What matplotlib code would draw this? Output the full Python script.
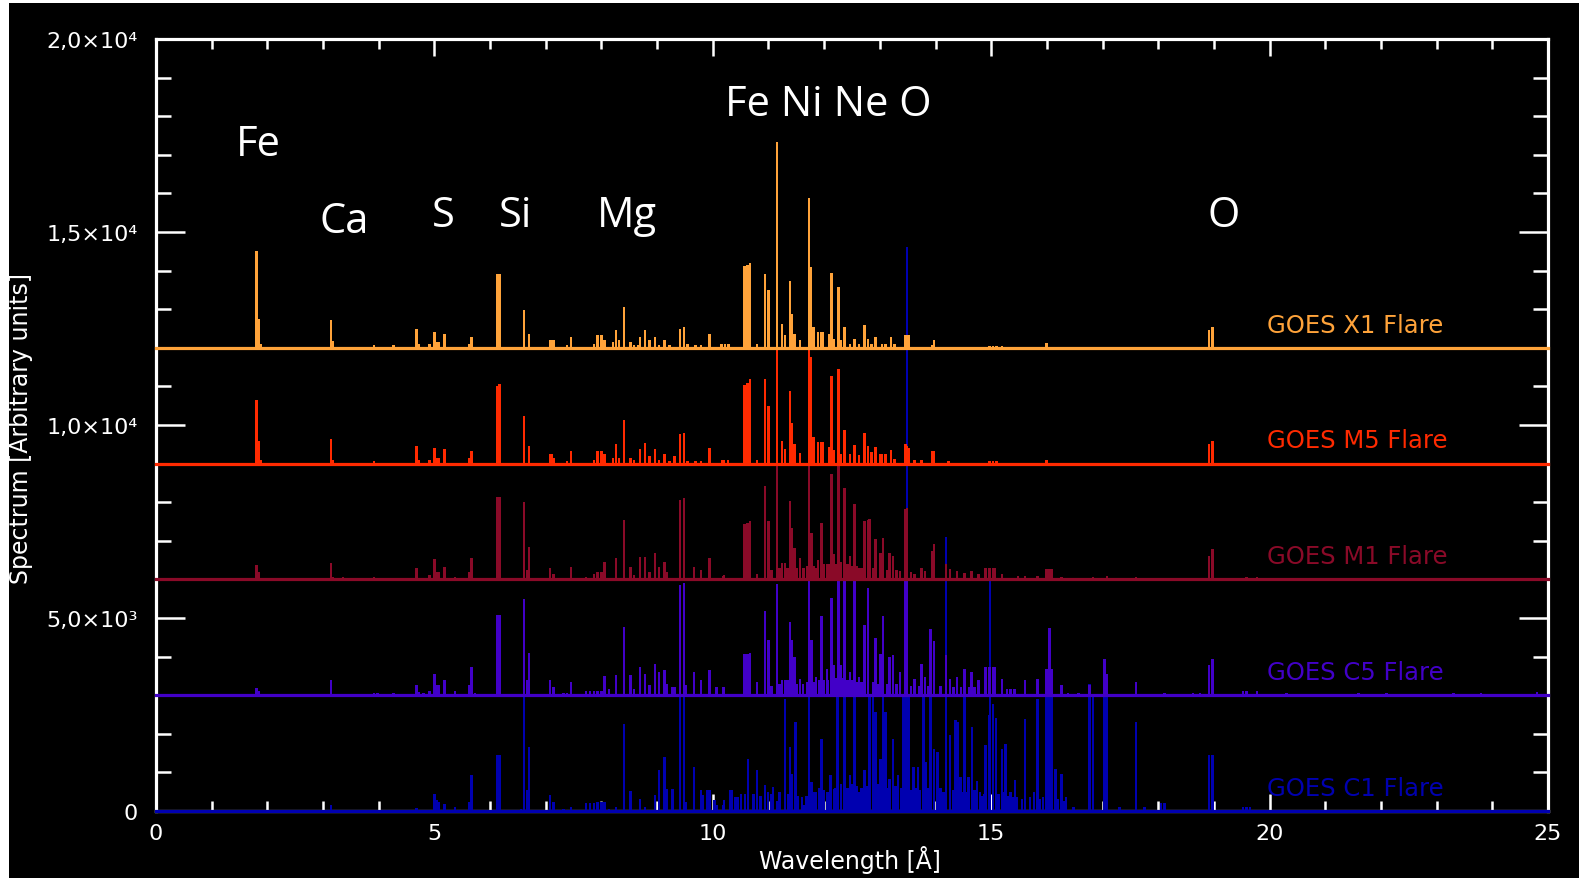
import matplotlib
matplotlib.use("Agg")
import matplotlib.pyplot as plt
from matplotlib.patches import Rectangle

# ---------------- data (wavelength [A], line height above series baseline) ----------------
x1_lines = [
    (1.801, 2510), (1.850, 750), (1.884, 100),
    (3.142, 710), (3.176, 165), (3.912, 60), (4.269, 60),
    (4.682, 490), (4.723, 100), (4.915, 105), (4.998, 405), (5.039, 150), (5.080, 150),
    (5.183, 365), (5.630, 105), (5.665, 275),
    (6.132, 1920), (6.173, 1920), (6.606, 970), (6.696, 365),
    (7.074, 205), (7.108, 205), (7.143, 205), (7.383, 60), (7.452, 275),
    (7.864, 105), (7.933, 320), (8.002, 320), (8.057, 190),
    (8.208, 150), (8.263, 450), (8.311, 190), (8.401, 1055),
    (8.518, 150), (8.586, 60), (8.655, 60), (8.689, 275), (8.779, 450), (8.861, 190),
    (8.964, 275), (9.033, 60), (9.136, 190), (9.226, 60),
    (9.411, 490), (9.480, 535), (9.549, 100), (9.686, 60), (9.789, 60), (9.941, 365),
    (10.155, 100), (10.219, 100), (10.283, 100),
    (10.572, 2130), (10.620, 2150), (10.668, 2200), (10.796, 105),
    (10.938, 1920), (11.002, 1490), (11.149, 5330),
    (11.246, 620), (11.297, 320), (11.387, 1730), (11.425, 880), (11.470, 365), (11.566, 190),
    (11.727, 3880), (11.759, 2090), (11.810, 535),
    (11.887, 405), (11.951, 405), (11.983, 405),
    (12.092, 365), (12.131, 1945), (12.176, 230),
    (12.259, 1570), (12.304, 190), (12.368, 535),
    (12.464, 100), (12.541, 230), (12.625, 100),
    (12.721, 580), (12.785, 230), (12.849, 100), (12.926, 275),
    (13.042, 100), (13.106, 100), (13.202, 275), (13.266, 100),
    (13.459, 320), (13.491, 320), (13.523, 320),
    (13.940, 60), (13.972, 190),
    (14.966, 50), (15.031, 50), (15.095, 50), (15.191, 50),
    (15.993, 120), (18.912, 450), (18.976, 535),
]

m5_lines = [
    (1.801, 1660), (1.850, 590), (1.884, 100),
    (3.142, 630), (3.176, 100), (3.912, 70),
    (4.682, 460), (4.723, 100), (4.915, 100), (4.998, 415), (5.039, 150), (5.080, 150),
    (5.183, 370), (5.630, 150), (5.665, 330),
    (6.132, 2000), (6.173, 2050), (6.606, 1235), (6.696, 460),
    (7.074, 240), (7.108, 240), (7.143, 150), (7.383, 70), (7.452, 330),
    (7.864, 100), (7.933, 330), (8.002, 330), (8.057, 240),
    (8.208, 150), (8.263, 500), (8.311, 150), (8.401, 1140),
    (8.518, 150), (8.586, 100), (8.689, 370), (8.779, 545), (8.861, 200),
    (8.964, 370), (9.033, 100), (9.136, 240), (9.226, 70), (9.308, 200),
    (9.411, 760), (9.480, 800), (9.549, 70), (9.686, 70), (9.789, 70), (9.941, 415),
    (10.167, 100), (10.202, 100), (10.270, 100),
    (10.572, 2030), (10.620, 2100), (10.668, 2180), (10.796, 100),
    (10.938, 2180), (11.002, 1490), (11.149, 3100),
    (11.246, 590), (11.297, 390), (11.387, 1875), (11.425, 1055), (11.470, 520), (11.566, 275),
    (11.727, 3100), (11.759, 2765), (11.810, 690),
    (11.887, 560), (11.951, 560), (11.983, 560),
    (12.092, 430), (12.131, 2265), (12.176, 345),
    (12.259, 2460), (12.304, 260), (12.368, 880),
    (12.464, 260), (12.541, 475), (12.625, 215),
    (12.721, 795), (12.785, 450), (12.849, 300), (12.926, 430),
    (13.010, 260), (13.042, 260), (13.106, 260), (13.202, 365), (13.266, 130),
    (13.459, 500), (13.491, 450), (13.523, 400), (13.619, 90), (13.748, 90),
    (13.940, 330), (13.972, 330), (14.229, 70),
    (14.966, 70), (15.031, 70), (15.095, 70), (15.993, 100),
    (18.912, 500), (18.976, 590),
]

m1_lines = [
    (1.801, 370), (1.850, 200),
    (3.142, 415), (3.176, 70), (3.362, 50), (3.912, 70),
    (4.682, 285), (4.915, 110), (4.998, 520), (5.039, 200), (5.080, 200),
    (5.183, 330), (5.369, 70), (5.630, 200), (5.665, 545),
    (6.132, 2125), (6.173, 2125), (6.606, 2015), (6.661, 240), (6.696, 850),
    (7.074, 285), (7.143, 150), (7.452, 330),
    (7.727, 70), (7.864, 150), (7.933, 190), (8.002, 200), (8.057, 460),
    (8.263, 545), (8.401, 1540), (8.518, 330), (8.586, 110),
    (8.689, 590), (8.779, 590), (8.861, 200), (8.964, 675), (9.033, 330),
    (9.136, 460), (9.171, 200), (9.411, 2055), (9.480, 2100),
    (9.666, 330), (9.789, 240), (9.941, 545), (10.187, 90), (10.202, 110),
    (10.572, 1425), (10.620, 1470), (10.668, 1510), (10.796, 130),
    (10.938, 2420), (11.002, 1510), (11.05, 250), (11.149, 3000), (11.20, 300),
    (11.246, 430), (11.297, 430), (11.34, 300), (11.387, 2030), (11.425, 1340),
    (11.470, 820), (11.50, 300), (11.566, 560),
    (11.630, 300), (11.69, 350), (11.727, 3000), (11.772, 1210), (11.81, 350),
    (11.855, 300), (11.887, 500), (11.951, 1470), (12.0, 400), (12.047, 390), (12.092, 400),
    (12.131, 2720), (12.176, 650), (12.21, 400), (12.259, 3000), (12.304, 450),
    (12.368, 2375), (12.42, 400), (12.464, 605), (12.50, 350), (12.541, 1945),
    (12.58, 350), (12.625, 300), (12.67, 300),
    (12.721, 1510), (12.785, 1530), (12.817, 1555), (12.88, 300),
    (12.926, 1035), (13.010, 690), (13.055, 1080), (13.14, 250), (13.170, 690), (13.234, 600),
    (13.30, 250), (13.363, 215), (13.459, 1815), (13.491, 1860), (13.56, 200),
    (13.619, 130), (13.748, 300), (13.812, 215), (13.940, 735), (13.972, 905),
    (14.184, 390), (14.261, 260), (14.389, 215), (14.517, 170), (14.646, 215), (14.774, 130),
    (14.902, 300), (14.966, 300), (15.031, 300), (15.063, 300), (15.191, 130),
    (15.480, 90), (15.608, 90), (15.833, 90),
    (15.993, 260), (16.044, 260), (16.089, 260), (16.262, 50),
    (16.827, 50), (17.083, 90), (17.597, 50),
    (18.912, 605), (18.976, 780), (19.585, 50), (19.778, 50),
]

c5_lines = [
    (1.801, 175), (1.850, 100), (3.142, 390),
    (3.912, 60), (3.981, 60), (4.269, 60),
    (4.682, 260), (4.723, 80), (4.805, 60),
    (4.915, 100), (4.998, 560), (5.039, 260), (5.080, 260),
    (5.183, 390), (5.369, 100), (5.630, 260), (5.665, 735), (5.733, 60),
    (6.132, 2090), (6.173, 2090), (6.606, 2480), (6.661, 390), (6.696, 1105),
    (7.074, 390), (7.143, 210), (7.315, 60), (7.383, 60), (7.452, 345),
    (7.727, 100), (7.795, 100), (7.864, 100), (7.933, 100), (8.002, 100),
    (8.057, 500), (8.140, 170), (8.263, 520), (8.401, 1755),
    (8.518, 520), (8.586, 170), (8.689, 735), (8.779, 560), (8.861, 260),
    (8.964, 805), (9.033, 605), (9.136, 650), (9.171, 300),
    (9.274, 220), (9.308, 220), (9.411, 2850), (9.480, 2895), (9.514, 260),
    (9.666, 605), (9.789, 390), (9.941, 650), (10.064, 220), (10.187, 220), (10.202, 220),
    (10.572, 1055), (10.620, 1080), (10.668, 1105), (10.796, 345),
    (10.938, 2185), (11.002, 1425), (11.05, 250), (11.149, 2870), (11.20, 300),
    (11.246, 390), (11.297, 390), (11.342, 390),
    (11.387, 1900), (11.425, 1425), (11.470, 995), (11.50, 300), (11.566, 430),
    (11.62, 300), (11.69, 350), (11.727, 3050), (11.772, 1425), (11.81, 350), (11.855, 475),
    (11.91, 400), (11.951, 2055), (12.0, 400), (12.047, 690), (12.07, 400),
    (12.131, 2525), (12.176, 780), (12.21, 450),
    (12.259, 3050), (12.304, 780), (12.33, 450), (12.368, 3050), (12.42, 400),
    (12.464, 605), (12.50, 400), (12.541, 3050), (12.58, 350), (12.625, 475), (12.67, 350),
    (12.721, 1815), (12.785, 2765), (12.88, 350), (12.926, 1470), (12.97, 300),
    (13.010, 1080), (13.055, 2055), (13.14, 300),
    (13.170, 995), (13.234, 1035), (13.30, 300), (13.363, 605),
    (13.459, 3050), (13.491, 3050), (13.56, 250),
    (13.619, 430), (13.70, 250), (13.748, 820), (13.812, 475), (13.87, 250),
    (13.908, 1710), (13.972, 1400), (14.09, 250),
    (14.184, 1035), (14.261, 430), (14.32, 200), (14.389, 475), (14.46, 200),
    (14.517, 690), (14.60, 200), (14.646, 605), (14.70, 200), (14.774, 390),
    (14.902, 735), (14.966, 735), (15.031, 735), (15.063, 735),
    (15.191, 430), (15.287, 170), (15.351, 170), (15.415, 170),
    (15.608, 390), (15.833, 430),
    (15.993, 690), (16.044, 1730), (16.089, 690),
    (16.262, 260), (16.378, 60), (16.570, 60), (16.763, 260),
    (17.032, 930), (17.083, 560), (17.597, 330),
    (18.110, 50), (18.623, 60), (18.751, 60),
    (18.912, 780), (18.976, 935),
    (19.521, 100), (19.585, 100), (19.778, 100),
    (20.3, 60), (21.6, 60), (22.1, 60), (23.3, 50), (23.8, 50), (24.8, 80),
]

c1_lines = [
    (3.142, 150), (4.682, 80),
    (4.998, 450), (5.039, 280), (5.080, 235), (5.183, 190), (5.369, 100),
    (5.630, 235), (5.665, 940),
    (6.132, 1445), (6.173, 1445),
    (6.558, 60), (6.606, 3000), (6.661, 535), (6.696, 1660),
    (7.074, 425), (7.143, 235), (7.315, 60), (7.452, 100),
    (7.727, 210), (7.795, 210), (7.864, 210), (7.933, 235), (8.002, 235), (8.057, 235),
    (8.140, 60), (8.263, 100), (8.401, 2245),
    (8.518, 510), (8.689, 320), (8.779, 100),
    (8.964, 405), (9.033, 1055), (9.136, 1400), (9.171, 580), (9.274, 580),
    (9.411, 3000), (9.480, 3000), (9.514, 235),
    (9.666, 1140), (9.789, 535), (9.824, 405), (9.898, 535),
    (9.941, 535), (10.027, 275), (10.064, 150), (10.187, 150), (10.202, 275),
    (10.315, 535), (10.339, 535), (10.412, 365), (10.442, 365), (10.508, 450),
    (10.580, 445), (10.628, 1355),
    (10.732, 450), (10.796, 1055), (10.86, 400),
    (10.938, 665), (10.989, 490), (11.05, 450), (11.085, 620), (11.149, 260), (11.20, 500),
    (11.297, 2910), (11.36, 450), (11.387, 1660), (11.425, 970), (11.489, 2305), (11.534, 400),
    (11.60, 350), (11.630, 150), (11.68, 400), (11.727, 3000), (11.772, 750), (11.81, 500),
    (11.855, 490), (11.91, 600),
    (11.951, 1875), (12.0, 550), (12.047, 490), (12.07, 500), (12.112, 925), (12.176, 580),
    (12.20, 600), (12.240, 3000), (12.30, 700), (12.368, 3000), (12.42, 600),
    (12.464, 925), (12.50, 700), (12.541, 3000), (12.58, 650), (12.625, 490), (12.67, 600),
    (12.721, 1055), (12.77, 650), (12.817, 3000), (12.881, 3000), (12.926, 2565), (12.97, 700),
    (13.010, 1355), (13.055, 3000), (13.106, 2565), (13.14, 600), (13.170, 840),
    (13.234, 1875), (13.28, 650), (13.330, 925), (13.38, 600),
    (13.427, 3000), (13.459, 3000), (13.491, 14600), (13.523, 3000), (13.56, 550),
    (13.606, 1140), (13.64, 600), (13.683, 1140), (13.72, 550), (13.780, 3000), (13.824, 1270),
    (13.86, 600), (13.908, 3000), (13.972, 1615), (14.036, 1530), (14.09, 600), (14.14, 500),
    (14.184, 7100), (14.261, 1960), (14.31, 550), (14.357, 2350), (14.402, 2300), (14.453, 880),
    (14.49, 500), (14.517, 3000), (14.56, 500), (14.594, 880), (14.658, 2175), (14.70, 550),
    (14.742, 790), (14.80, 500), (14.838, 400), (14.87, 450),
    (14.902, 1700), (14.966, 2480), (14.979, 6000), (15.031, 2780), (15.082, 2400),
    (15.13, 450), (15.191, 1615), (15.22, 500), (15.255, 1745), (15.31, 400), (15.351, 490),
    (15.39, 350), (15.428, 795), (15.46, 350), (15.55, 300),
    (15.608, 2395), (15.70, 350), (15.768, 490), (15.833, 2910), (15.88, 300), (15.929, 360),
    (15.993, 3000), (16.044, 3000), (16.089, 3000), (16.153, 1100), (16.20, 300), (16.262, 970),
    (16.30, 250), (16.346, 360), (16.474, 100),
    (16.763, 3300), (16.827, 3000),
    (17.032, 3900), (17.083, 3000), (17.308, 100), (17.597, 2305),
    (17.757, 100), (18.046, 200), (18.110, 200),
    (18.912, 1445), (18.976, 1445),
    (19.521, 100), (19.585, 100), (19.649, 100),
]

series_names = ["GOES X1 Flare", "GOES M5 Flare", "GOES M1 Flare", "GOES C5 Flare", "GOES C1 Flare"]
series_offsets = [12000, 9000, 6000, 3000, 0]
series_colors = ["#ffa33a", "#ff2a00", "#8a0a28", "#4200c8", "#0000b0"]
series_lines = [x1_lines, m5_lines, m1_lines, c5_lines, c1_lines]

element_labels = ["Fe", "Ca", "S", "Si", "Mg", "Fe Ni Ne O", "O"]
element_wl = [1.845, 3.38, 5.155, 6.46, 8.45, 12.07, 19.17]
element_y = [17000, 14990, 15145, 15145, 15145, 18020, 15145]

x_ticks = [0, 5, 10, 15, 20, 25]
y_ticks = [0, 5000, 10000, 15000, 20000]
y_ticklabels = ["0", "5,0×10³", "1,0×10⁴", "1,5×10⁴", "2,0×10⁴"]

# ---------------- figure ----------------
W, H = 1579, 879
fig = plt.figure(figsize=(W / 100, H / 100), dpi=100)
fig.patch.set_facecolor("white")
fig.add_artist(Rectangle((9 / W, 0), 1 - 9 / W, 1 - 4 / H, transform=fig.transFigure,
                         facecolor="black", edgecolor="none", zorder=0))

ax = fig.add_axes([156 / W, 1 - 812 / H, (1548 - 156) / W, (812 - 40) / H])
ax.set_facecolor("black")
ax.set_xlim(0, 25)
ax.set_ylim(0, 20000)

n = len(series_lines)
for i, (lines, off, col) in enumerate(zip(series_lines, series_offsets, series_colors)):
    z = 3 + (n - 1 - i)  # C1 lowest, X1 on top
    wl = [p[0] for p in lines]
    hh = [p[1] for p in lines]
    ax.bar(wl, hh, width=0.045, bottom=off, color=col, linewidth=0, zorder=z)
    ax.axhline(off, color=col, linewidth=2.3, zorder=z, clip_on=False)

for name, off, col in zip(series_names, series_offsets, series_colors):
    ax.text(19.96, off + 600, name, color=col, fontsize=17.5, ha="left", va="center",
            family="DejaVu Sans", zorder=10)

for lab, wx, wy in zip(element_labels, element_wl, element_y):
    ax.text(wx, wy, lab, color="white", fontsize=30, family="Open Sans",
            ha="center", va="baseline", zorder=10)

for s in ax.spines.values():
    s.set_color("white")
    s.set_linewidth(2.3)

ax.set_xticks(x_ticks)
ax.set_xticks(range(0, 26), minor=True)
ax.set_yticks(y_ticks)
ax.set_yticks(range(0, 20001, 1000), minor=True)
ax.set_xticklabels([str(t) for t in x_ticks])
ax.set_yticklabels(y_ticklabels)

ax.tick_params(axis="x", which="major", direction="in", length=12, width=1.8,
               color="white", top=True, bottom=True, labelcolor="white",
               labelsize=16, pad=9)
ax.tick_params(axis="x", which="minor", direction="in", length=7, width=1.8,
               color="white", top=True, bottom=True)
ax.tick_params(axis="y", which="major", direction="in", length=21, width=1.8,
               color="white", left=True, right=True, labelcolor="white",
               labelsize=16, pad=13)
ax.tick_params(axis="y", which="minor", direction="in", length=11, width=1.8,
               color="white", left=True, right=True)

fig.text(850 / W, 1 - 860 / H, "Wavelength [Å]", color="white", fontsize=17,
         ha="center", va="center")
fig.text(21 / W, 1 - 428 / H, "Spectrum [Arbitrary units]", color="white", fontsize=17,
         ha="center", va="center", rotation=90)

fig.savefig("out.png", dpi=100, facecolor=fig.get_facecolor())
